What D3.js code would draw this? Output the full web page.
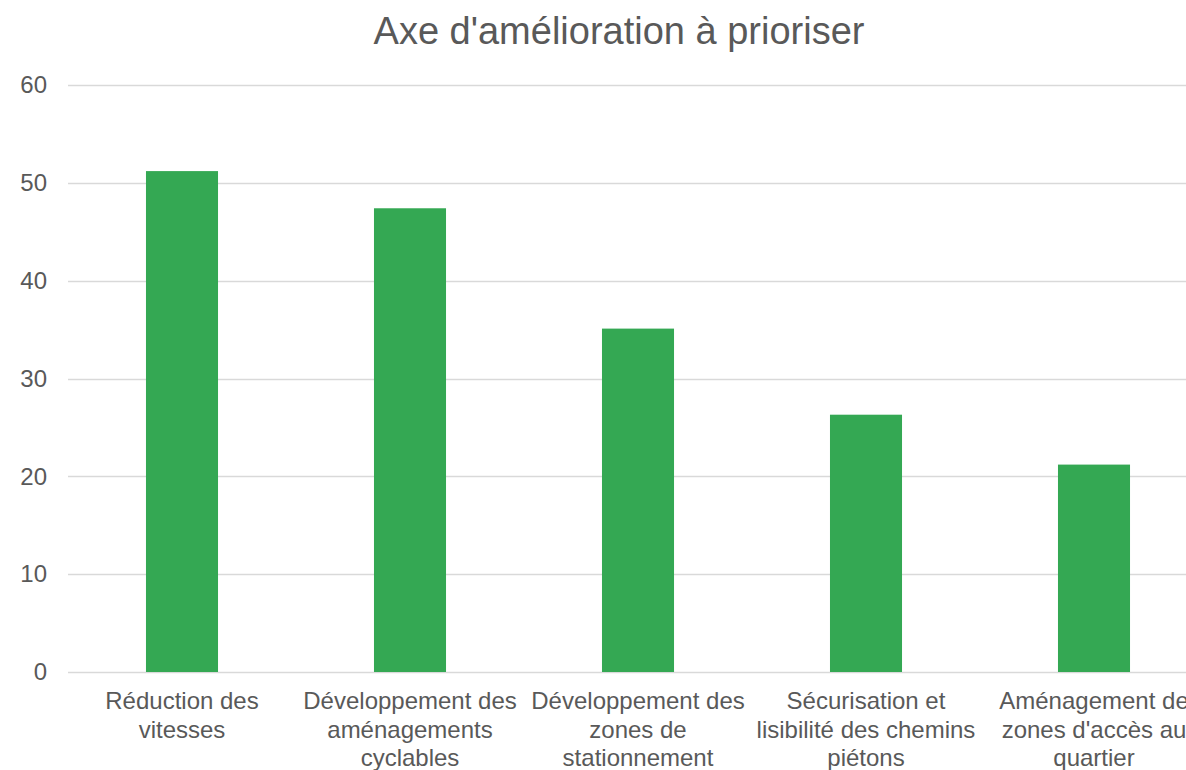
<!DOCTYPE html>
<html>
<head>
<meta charset="utf-8">
<script src="https://cdn.jsdelivr.net/npm/d3@7.9.0/dist/d3.min.js"></script>
<style>
  body { margin: 0; background: #fff; overflow: hidden; }
  svg { display: block; font-family: 'Liberation Sans', Arial, sans-serif; }
</style>
</head>
<body>
<div id="chart"></div>
<script>
const title = "Axe d'amélioration à prioriser";
const categories = [
  'Réduction des vitesses',
  'Développement des aménagements cyclables',
  'Développement des zones de stationnement',
  'Sécurisation et lisibilité des chemins piétons',
  "Aménagement de zones d'accès au quartier",
];
// wrapped label lines, as shown under each bar
const labelLines = [
  ['Réduction des', 'vitesses'],
  ['Développement des', 'aménagements', 'cyclables'],
  ['Développement des', 'zones de', 'stationnement'],
  ['Sécurisation et', 'lisibilité des chemins', 'piétons'],
  ['Aménagement de', "zones d'accès au", 'quartier'],
];
const values = [51.2, 47.4, 35.1, 26.3, 21.2];
const yTicks = [0, 10, 20, 30, 40, 50, 60];

const width = 1186;
const height = 770;
const margin = { top: 85, right: -22, bottom: 98, left: 68 };

const svg = d3
  .select('#chart')
  .append('svg')
  .attr('width', width)
  .attr('height', height);

const xScale = d3
  .scaleBand()
  .domain(categories)
  .range([margin.left, width - margin.right])
  .paddingInner(0.684)
  .paddingOuter(0.342);

const yScale = d3
  .scaleLinear()
  .domain([0, 60])
  .range([height - margin.bottom, margin.top]);

// title
svg
  .append('text')
  .attr('x', 619)
  .attr('y', 44)
  .attr('text-anchor', 'middle')
  .attr('fill', '#595959')
  .style('font-size', '38px')
  .text(title);

// gridlines
svg
  .append('g')
  .attr('class', 'gridlines')
  .selectAll('line')
  .data(yTicks)
  .join('line')
  .attr('x1', margin.left)
  .attr('x2', width)
  .attr('y1', (d) => Math.round(yScale(d)) + 0.5)
  .attr('y2', (d) => Math.round(yScale(d)) + 0.5)
  .attr('stroke', '#d9d9d9')
  .attr('stroke-width', 1.5);

// y axis labels
const yAxis = d3.axisLeft(yScale).tickValues(yTicks).tickSize(0).tickPadding(0);
const yg = svg
  .append('g')
  .attr('transform', `translate(47, 0)`)
  .call(yAxis);
yg.select('.domain').remove();
yg.selectAll('text')
  .attr('fill', '#595959')
  .style('font-size', '24px')
  .style('font-family', "'Liberation Sans', Arial, sans-serif");

// bars
svg
  .append('g')
  .selectAll('rect')
  .data(values)
  .join('rect')
  .attr('x', (d, i) => xScale(categories[i]))
  .attr('y', (d) => yScale(d))
  .attr('width', xScale.bandwidth())
  .attr('height', (d) => yScale(0) - yScale(d))
  .attr('fill', '#34a853');

// x labels
const xl = svg
  .append('g')
  .selectAll('text')
  .data(categories)
  .join('text')
  .attr('x', (d) => xScale(d) + xScale.bandwidth() / 2)
  .attr('y', 709)
  .attr('text-anchor', 'middle')
  .attr('fill', '#595959')
  .style('font-size', '24px');

xl.selectAll('tspan')
  .data((d, i) => labelLines[i])
  .join('tspan')
  .attr('x', function () {
    return this.parentNode.getAttribute('x');
  })
  .attr('dy', (d, i) => (i === 0 ? 0 : 28.5))
  .text((d) => d);
</script>
</body>
</html>
